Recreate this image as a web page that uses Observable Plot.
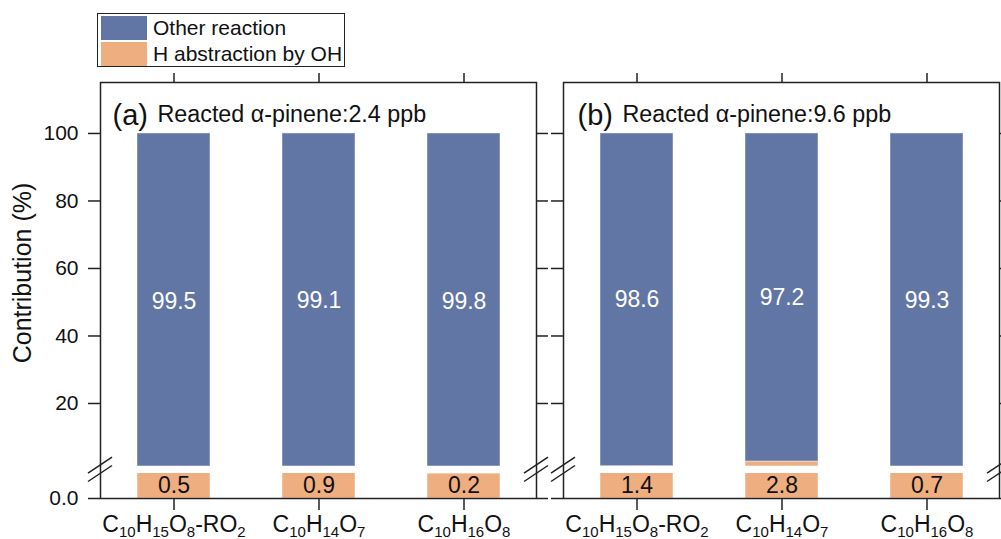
<!DOCTYPE html>
<html>
<head>
<meta charset="utf-8">
<script src="https://cdn.jsdelivr.net/npm/d3@7"></script>
<script src="https://cdn.jsdelivr.net/npm/@observablehq/plot@0.6"></script>
<style>
  body { margin: 0; background: #fff; }
  #fig { position: relative; width: 1001px; height: 539px; overflow: hidden;
         font-family: "Liberation Sans", Arial, Helvetica, sans-serif; color: #111; }
  #fig svg { position: absolute; left: 0; top: 0; }
</style>
</head>
<body>
<div id="fig"></div>
<script>
// ---------- data ----------
const compounds = ["C10H15O8-RO2", "C10H14O7", "C10H16O8"];
const panels = ["a", "b"];
const panelLetters = ["(a)", "(b)"];
const panelTitles = ["Reacted α-pinene:2.4 ppb", "Reacted α-pinene:9.6 ppb"];
const otherA = [99.5, 99.1, 99.8];
const hAbsA = [0.5, 0.9, 0.2];
const otherB = [98.6, 97.2, 99.3];
const hAbsB = [1.4, 2.8, 0.7];
const series = ["H abstraction by OH", "Other reaction"];   // stack order, bottom first
const legendOrder = ["Other reaction", "H abstraction by OH"];
const colors = ["#efae7f", "#6276a6"];
const yTicksUpper = [20, 40, 60, 80, 100];
const yTicksLower = [0];
const yLabel = "Contribution (%)";

// ---------- layout ----------
const W = 1001, H = 539;
const panelX = [[100, 536], [563, 999]];
const upperPx = [82, 465.7], lowerPx = [473, 498];
const upperDomain = [1.42, 115.1], lowerDomain = [0, 0.2];
const font = '"Liberation Sans", Arial, Helvetica, sans-serif';
const ink = "#222";

const table = [];
panels.forEach((p, pi) => {
  const other = pi === 0 ? otherA : otherB;
  const habs = pi === 0 ? hAbsA : hAbsB;
  compounds.forEach((c, i) => {
    table.push({panel: p, compound: c, type: series[0], value: habs[i]});
    table.push({panel: p, compound: c, type: series[1], value: other[i]});
  });
});

const fig = document.getElementById("fig");
const blank = () => "";

function subscriptify(svg) {
  d3.select(svg).selectAll('g[aria-label="x-axis tick label"] text').each(function () {
    const s = this.textContent;
    const sel = d3.select(this);
    sel.text(null);
    const parts = s.match(/\d+|\D+/g) || [];
    let low = false;
    parts.forEach(p => {
      const isSub = /^\d+$/.test(p);
      const ts = sel.append("tspan").text(p);
      if (isSub) { ts.attr("font-size", 15); if (!low) ts.attr("dy", 5); low = true; }
      else { if (low) ts.attr("dy", -5); low = false; }
    });
  });
}

function segment(pi, upper) {
  const [x0, x1] = panelX[pi];
  const [t, b] = upper ? upperPx : lowerPx;
  const rows = table.filter(d => d.panel === panels[pi]);
  const ticks = upper ? yTicksUpper : yTicksLower;
  const axisOpts = {ticks, tickSize: 12, stroke: ink, strokeWidth: 1.5, label: null, fontSize: 21};
  const marks = [
    Plot.barY(rows, {x: "compound", y: "value", fill: "type", order: series, clip: true,
                     stroke: "#fff", strokeOpacity: 0.45, strokeWidth: 1}),
    Plot.axisY({...axisOpts, anchor: "left", tickPadding: 10,
                tickFormat: pi === 0 ? (upper ? d3.format("d") : d3.format(".1f")) : blank}),
    Plot.axisY({...axisOpts, anchor: "right", tickSize: 11, tickFormat: blank})
  ];
  if (upper) {
    marks.push(Plot.axisX({anchor: "top", tickSize: 10, tickFormat: blank, stroke: ink, strokeWidth: 1.5, label: null}));
    marks.push(Plot.text(rows, Plot.stackY({
      x: "compound", y: "value", z: "type", order: series,
      text: d => d.type === series[1] ? d.value.toFixed(1) : "",
      fill: "white", fontSize: 23
    })));
    marks.push(Plot.text([panelLetters[pi]], {text: d => d, frameAnchor: "top-left", textAnchor: "start",
      dx: pi === 0 ? 12 : 14, dy: 22, fontSize: 29, fill: "#111"}));
    marks.push(Plot.text([panelTitles[pi]], {text: d => d, frameAnchor: "top-left", textAnchor: "start",
      dx: pi === 0 ? 57 : 59, dy: 23, fontSize: 23.3, fill: "#111"}));
  } else {
    marks.push(Plot.axisX({anchor: "bottom", tickSize: 12, tickPadding: 5, fontSize: 23,
      stroke: ink, strokeWidth: 1.5, label: null, tickFormat: d => d}));
    marks.push(Plot.text(rows.filter(d => d.type === series[0]), {
      x: "compound", y: d3.mean(lowerDomain), text: d => d.value.toFixed(1),
      fill: "#111", fontSize: 23
    }));
  }
  const svg = Plot.plot({
    width: W, height: H,
    marginLeft: x0, marginRight: W - x1, marginTop: t, marginBottom: H - b,
    x: {domain: compounds, paddingInner: 0.5, paddingOuter: 0.25},
    y: {domain: upper ? upperDomain : lowerDomain},
    color: {domain: series, range: colors},
    style: {background: "transparent", fontFamily: font, color: "#111", overflow: "visible"},
    marks
  });
  if (!upper) subscriptify(svg);
  return svg;
}

function framePlot(pi) {
  const [x0, x1] = panelX[pi];
  const svg = Plot.plot({
    width: W, height: H,
    marginLeft: x0, marginRight: W - x1, marginTop: upperPx[0], marginBottom: H - lowerPx[1],
    x: {domain: [0, 1], axis: null}, y: {domain: [0, 1], axis: null},
    style: {background: "transparent", overflow: "visible"},
    marks: [Plot.frame({stroke: ink, strokeWidth: 1.5})]
  });
  // axis-break marks on both sides of the panel
  const g = d3.select(svg).append("g").attr("stroke", ink).attr("stroke-width", 1.5);
  const centers = [upperPx[1] - 0.5, lowerPx[0] + 0.5];
  [x0, x1].forEach(x => centers.forEach(c => {
    g.append("line").attr("x1", x - 12).attr("y1", c + 8).attr("x2", x + 12).attr("y2", c - 8);
  }));
  return svg;
}

[0, 1].forEach(pi => {
  fig.appendChild(segment(pi, true));
  fig.appendChild(segment(pi, false));
  fig.appendChild(framePlot(pi));
});

// ---------- y label ----------
const yl = document.createElement("div");
yl.textContent = yLabel;
Object.assign(yl.style, {
  position: "absolute", left: (22 - 150) + "px", top: (273 - 14) + "px", width: "300px", height: "28px",
  lineHeight: "28px", textAlign: "center", fontSize: "25px", transform: "rotate(-90deg)", color: "#111"
});
fig.appendChild(yl);

// ---------- legend ----------
const lg = document.createElement("div");
Object.assign(lg.style, {
  position: "absolute", left: "97px", top: "13px", width: "246px", height: "52px",
  border: "1.5px solid " + ink, background: "#fff"
});
legendOrder.forEach((name, i) => {
  const sw = document.createElement("div");
  Object.assign(sw.style, {
    position: "absolute", left: "3px", top: (2 + i * 26) + "px", width: "46px", height: "24px",
    background: colors[series.indexOf(name)]
  });
  const tx = document.createElement("div");
  tx.textContent = name;
  Object.assign(tx.style, {
    position: "absolute", left: "55px", top: (1 + i * 26) + "px", height: "26px", lineHeight: "26px",
    fontSize: "21px", whiteSpace: "nowrap", color: "#111"
  });
  lg.appendChild(sw); lg.appendChild(tx);
});
fig.appendChild(lg);
</script>
</body>
</html>
